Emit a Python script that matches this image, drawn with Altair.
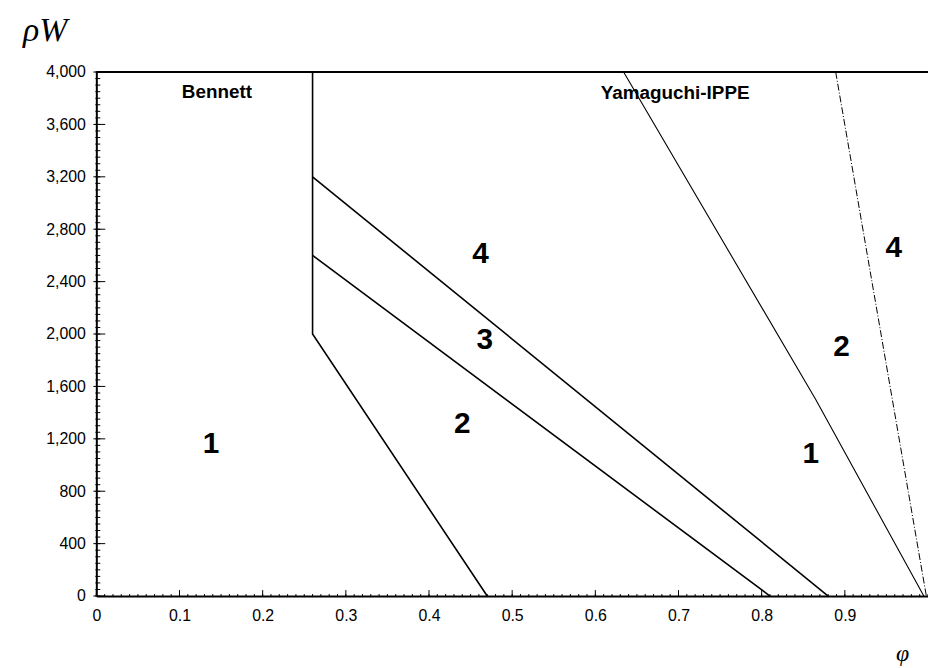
import altair as alt
import pandas as pd

# ---- data ----
bennett_phi = [0.26, 0.26, 0.47]
bennett_rho = [4000, 2000, 0]
lineA_phi = [0.26, 0.88]
lineA_rho = [3200, 0]
lineB_phi = [0.26, 0.81]
lineB_rho = [2600, 0]
yam1_phi = [0.634, 0.865, 0.995]
yam1_rho = [4000, 1500, 0]
yam2_phi = [0.889, 0.998]
yam2_rho = [4000, 0]

region_labels = ["1", "2", "3", "4", "1", "2", "4"]
region_phi = [0.138, 0.440, 0.467, 0.462, 0.859, 0.896, 0.959]
region_rho = [1159, 1311, 1955, 2614, 1083, 1902, 2659]

model_names = ["Bennett", "Yamaguchi-IPPE"]
model_phi = [0.145, 0.696]
model_rho = [3848, 3841]

x_label_values = [0, 0.1, 0.2, 0.3, 0.4, 0.5, 0.6, 0.7, 0.8, 0.9]
y_label_values = [0, 400, 800, 1200, 1600, 2000, 2400, 2800, 3200, 3600, 4000]
x_minor = [round(i * 0.01, 2) for i in range(0, 101)]
y_minor = [i * 50 for i in range(0, 81)]

W, H = 838, 528

def mk(name, phis, rhos):
    return pd.DataFrame({"line": name, "order": range(len(phis)), "phi": phis, "rho": rhos})

solid = pd.concat([mk("bennett", bennett_phi, bennett_rho),
                   mk("A", lineA_phi, lineA_rho),
                   mk("B", lineB_phi, lineB_rho)])
yam1 = mk("y1", yam1_phi, yam1_rho)
yam2 = mk("y2", yam2_phi, yam2_rho)

xs = alt.Scale(domain=[0, 1], nice=False)
ys = alt.Scale(domain=[0, 4000], nice=False)

FONT = "Liberation Sans"

base_x = alt.X("phi:Q", scale=xs,
               axis=alt.Axis(values=x_label_values, ticks=False, grid=False,
                             domainColor="black", domainWidth=2,
                             labelExpr="datum.value == 0 ? '0' : format(datum.value, '.1f')",
                             labelFont=FONT, labelFontSize=16, labelColor="black",
                             labelPadding=12, labelFlush=False,
                             title="φ", titleFont="Liberation Serif", titleFontStyle="italic",
                             titleFontWeight="normal", titleFontSize=24, titleColor="black",
                             titleAnchor="start", titleAlign="center", titleX=812, titleY=58,
                             titleBaseline="middle"))
base_y = alt.Y("rho:Q", scale=ys,
               axis=alt.Axis(values=y_label_values, ticks=False, grid=False,
                             domainColor="black", domainWidth=2,
                             labelExpr="format(datum.value, ',')",
                             labelFont=FONT, labelFontSize=16, labelColor="black",
                             labelPadding=11,
                             title="ρW", titleFont="Liberation Serif", titleFontStyle="italic",
                             titleFontWeight="normal", titleFontSize=34, titleColor="black",
                             titleAngle=0, titleAlign="center", titleBaseline="middle",
                             titleX=-52, titleY=-42))

solid_lines = alt.Chart(solid).mark_line(color="black", strokeWidth=1.6).encode(
    x=base_x, y=base_y, detail="line:N", order="order:Q")
yam1_line = alt.Chart(yam1).mark_line(color="black", strokeWidth=1.1).encode(
    x=alt.X("phi:Q", scale=xs), y=alt.Y("rho:Q", scale=ys), order="order:Q")
yam2_line = alt.Chart(yam2).mark_line(color="black", strokeWidth=1.0, strokeDash=[7, 2, 1, 2]).encode(
    x=alt.X("phi:Q", scale=xs), y=alt.Y("rho:Q", scale=ys), order="order:Q")

top_border = alt.Chart(pd.DataFrame({"rho": [4000]})).mark_rule(color="black", strokeWidth=2).encode(
    y=alt.Y("rho:Q", scale=ys))

reg = pd.DataFrame({"t": region_labels, "phi": region_phi, "rho": region_rho})
region_text = alt.Chart(reg).mark_text(font=FONT, fontSize=30, fontWeight="bold", color="black").encode(
    x=alt.X("phi:Q", scale=xs), y=alt.Y("rho:Q", scale=ys), text="t:N")

mod = pd.DataFrame({"t": model_names, "phi": model_phi, "rho": model_rho})
model_text = alt.Chart(mod).mark_text(font=FONT, fontSize=19, fontWeight="bold", color="black").encode(
    x=alt.X("phi:Q", scale=xs), y=alt.Y("rho:Q", scale=ys), text="t:N")

# inward ticks
yminor_df = pd.DataFrame({"rho": y_minor})
ymajor_df = pd.DataFrame({"rho": y_label_values})
xminor_df = pd.DataFrame({"phi": x_minor})
xmajor_df = pd.DataFrame({"phi": x_label_values})

y_minor_ticks = alt.Chart(yminor_df).mark_rule(color="black", strokeWidth=1).encode(
    y=alt.Y("rho:Q", scale=ys), x=alt.value(-1), x2=alt.value(4))
y_major_ticks = alt.Chart(ymajor_df).mark_rule(color="black", strokeWidth=1).encode(
    y=alt.Y("rho:Q", scale=ys), x=alt.value(-3), x2=alt.value(9))
x_minor_ticks = alt.Chart(xminor_df).mark_rule(color="black", strokeWidth=1).encode(
    x=alt.X("phi:Q", scale=xs), y=alt.value(H), y2=alt.value(H - 2))
x_major_ticks = alt.Chart(xmajor_df).mark_rule(color="black", strokeWidth=1).encode(
    x=alt.X("phi:Q", scale=xs), y=alt.value(H), y2=alt.value(H - 6))

chart = alt.layer(
    solid_lines, yam1_line, yam2_line, top_border,
    y_minor_ticks, y_major_ticks, x_minor_ticks, x_major_ticks,
    region_text, model_text,
).properties(
    width=W, height=H,
    autosize=alt.AutoSizeParams(type="none"),
    padding={"left": 89, "top": 62, "right": 0, "bottom": 70},
    background="white",
).configure_view(stroke=None)

chart.save("out.html", embed_options={"renderer": "svg", "actions": False})
